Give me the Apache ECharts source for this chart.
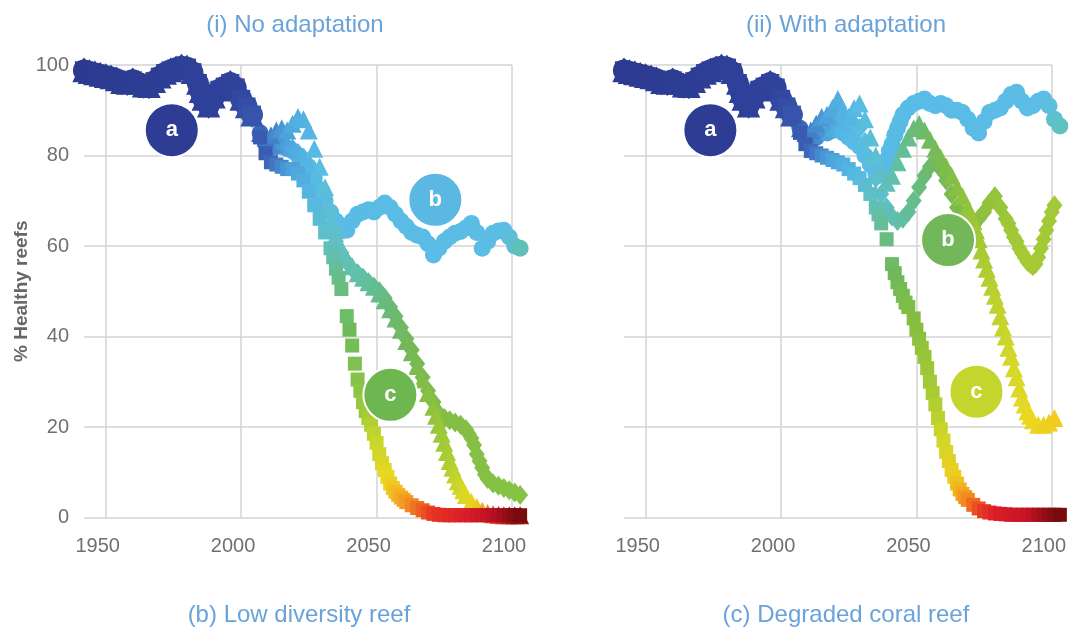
<!DOCTYPE html>
<html>
<head>
<meta charset="utf-8">
<script src="https://cdn.jsdelivr.net/npm/echarts@6/dist/echarts.min.js"></script>
<style>
html,body{margin:0;padding:0;background:#fff;}
#chart{width:1069px;height:632px;}
</style>
</head>
<body>
<div id="chart"></div>
<script>
// ---------------- DATA ----------------
const xTicks = [1950, 2000, 2050, 2100];
const panelTitles = ['(i) No adaptation', '(ii) With adaptation'];
const panelCaptions = ['(b) Low diversity reef', '(c) Degraded coral reef'];
const yAxisTitle = '% Healthy reefs';

// observed record shared by every scenario
const historical = [[1942,98.8],[1944,98.4],[1946,98.1],[1948,97.8],[1950,97.5],[1952,97.2],[1954,96.8],[1956,96.2],[1958,96.0],[1960,96.6],[1962,96.0],[1964,95.4],[1966,95.3],[1968,96.4],[1970,97.4],[1972,98.2],[1974,98.8],[1976,99.2],[1978,99.6],[1980,99.4],[1982,98.4],[1984,96.0],[1985,94.2],[1986,92.5],[1988,91.0],[1990,93.0],[1992,94.5],[1994,95.2],[1996,96.0],[1998,95.0],[2000,92.5],[2002,90.8],[2004,89.0]];

// (i) No adaptation projections
const noAdaptCircles = [[2007,85],[2009,83],[2011,82],[2013,82],[2015,82],[2017,81.5],[2019,81],[2021,80],[2023,79],[2025,77.5],[2027,75],[2029,72.5],[2031,70],[2033,67.5],[2035,65.5],[2037,64],[2039,63.5],[2041,65.5],[2043,67],[2045,67.5],[2047,68],[2049,67.5],[2051,68.5],[2053,69.5],[2055,68.5],[2057,67],[2059,65.5],[2061,64.3],[2063,63],[2065,62.4],[2067,62],[2069,60.5],[2071,58],[2073,59.5],[2075,61],[2077,62],[2079,62.8],[2081,63.2],[2083,64],[2085,65],[2087,63],[2089,59.5],[2091,61],[2093,62.8],[2095,63.3],[2097,63.5],[2099,62],[2101,60],[2103,59.5]];
const noAdaptDiamonds = [[2007,84],[2009,82],[2011,81.5],[2013,82],[2015,82.5],[2017,82],[2019,81.5],[2021,80.5],[2023,79.5],[2025,77.5],[2027,74.5],[2029,71.5],[2031,68],[2033,64.5],[2035,61],[2037,58.5],[2039,56.5],[2041,55],[2043,54],[2045,53],[2047,52],[2049,51],[2051,50],[2053,48.5],[2055,46.5],[2057,44.5],[2059,42],[2061,39.5],[2063,37],[2065,34],[2067,31],[2069,28],[2071,25.5],[2073,23],[2075,22],[2077,21.5],[2079,21],[2081,20.5],[2083,19.5],[2084,18.5],[2085,17.5],[2086,16],[2087,14],[2088,12.5],[2089,11],[2090,9.5],[2091,8.5],[2093,7.5],[2095,7],[2097,6.5],[2099,6],[2101,5.5],[2103,5]];
const noAdaptTriangles = [[2007,85],[2009,84],[2011,84.5],[2013,85.5],[2015,86],[2017,85.5],[2019,87],[2021,88.5],[2023,88],[2025,85.5],[2027,81.5],[2029,77.5],[2031,73],[2033,68.5],[2035,63.5],[2037,59.5],[2039,57],[2041,55.5],[2043,54],[2045,53],[2047,52],[2049,51],[2051,49.5],[2053,48],[2055,46],[2057,44],[2059,41.5],[2061,39],[2063,36.5],[2065,33.5],[2067,30.5],[2069,27.5],[2071,24.5],[2072,22.5],[2073,20.5],[2074,18.5],[2075,16.5],[2076,14.5],[2077,12.5],[2078,11],[2079,9.5],[2080,8],[2081,7],[2082,6],[2083,5],[2085,3.5],[2087,2.3],[2089,1.5],[2091,1],[2093,0.7],[2095,0.6],[2097,0.5],[2099,0.5],[2101,0.5],[2103,0.5]];
const noAdaptSquares = [[2007,84],[2009,80.5],[2011,78.5],[2013,78],[2015,77.5],[2017,77],[2019,77],[2021,76],[2023,74.5],[2025,72],[2027,69],[2029,66],[2031,63],[2033,59.5],[2034,57.5],[2035,55],[2036,53],[2037,50.5],[2039,44.5],[2040,41.5],[2041,38],[2042,34],[2043,30.5],[2044,28],[2045,25.5],[2046,23.5],[2047,22],[2048,20.5],[2049,18.5],[2050,16.5],[2051,14],[2052,12],[2053,10.5],[2054,9],[2055,7.5],[2056,6.5],[2057,5.7],[2058,5],[2059,4.4],[2060,3.9],[2061,3.4],[2063,2.7],[2065,2.1],[2067,1.6],[2069,1.1],[2071,0.8],[2073,0.6],[2075,0.5],[2077,0.5],[2079,0.5],[2081,0.5],[2083,0.5],[2085,0.5],[2087,0.5],[2089,0.5],[2091,0.5],[2093,0.5],[2095,0.5],[2097,0.5],[2099,0.5],[2101,0.5],[2103,0.5]];

// (ii) With adaptation projections
const adaptCircles = [[2007,86],[2009,84],[2011,83],[2013,84],[2015,85],[2017,85],[2019,85.5],[2021,86],[2023,85],[2025,84],[2027,83],[2029,82],[2031,80],[2033,78],[2035,76],[2036,75.5],[2037,76],[2038,77.5],[2039,79],[2040,81],[2041,82.5],[2042,84.5],[2043,86],[2044,87.5],[2045,89],[2047,90.5],[2049,91.5],[2051,92],[2053,92.5],[2055,91.5],[2057,91],[2059,91.5],[2061,91],[2063,90],[2065,90],[2067,89.5],[2069,88],[2071,86],[2073,85],[2075,87.5],[2077,89.5],[2079,90],[2081,90.5],[2083,92],[2085,93.5],[2087,94],[2089,92],[2091,90.5],[2093,91],[2095,92],[2097,92.5],[2099,91],[2101,88],[2103,86.5]];
const adaptDiamonds = [[2007,85],[2009,84],[2011,83.5],[2013,84.5],[2015,86],[2017,87],[2019,88],[2021,89],[2023,88.5],[2025,87],[2027,87],[2029,86],[2031,83],[2033,79],[2035,75],[2037,71.5],[2039,68.5],[2041,66.5],[2043,65.5],[2045,66],[2047,67.5],[2049,70],[2051,73],[2053,75.5],[2055,77.5],[2057,78.5],[2059,77],[2061,74.5],[2063,71.5],[2065,68.5],[2067,66],[2069,64.5],[2071,64.5],[2073,66],[2075,67.5],[2077,69.5],[2079,71],[2081,68.5],[2083,66],[2084,65],[2085,63.5],[2086,62],[2087,61],[2088,59.5],[2089,58.5],[2090,57.5],[2091,56.5],[2092,56],[2093,55.5],[2094,56],[2095,57.5],[2096,59.5],[2097,61.5],[2098,63.5],[2099,65.5],[2100,67.5],[2101,69]];
const adaptTriangles = [[2007,86],[2009,85],[2011,85.5],[2013,87],[2015,88.5],[2017,89],[2019,90.5],[2021,92.5],[2023,90],[2025,88.5],[2027,90.5],[2029,91.5],[2031,88],[2033,84],[2035,80],[2037,76.5],[2039,74],[2041,75.5],[2043,78.5],[2045,81.5],[2047,84],[2049,86],[2051,87],[2053,85.5],[2055,83.5],[2057,81.5],[2059,79.5],[2061,77.5],[2063,75.5],[2065,73],[2067,71],[2069,68.5],[2070,67],[2071,65.5],[2072,63.5],[2073,61.5],[2074,59],[2075,57],[2076,55],[2077,53],[2078,51],[2079,49],[2080,47],[2081,44.5],[2082,42],[2083,40],[2084,37.5],[2085,35.5],[2086,33],[2087,31],[2088,28.5],[2089,26.5],[2090,25],[2091,23.5],[2092,22.5],[2093,21.5],[2095,20.5],[2097,20.5],[2099,21],[2101,22]];
const adaptSquares = [[2007,85],[2009,82.5],[2011,81],[2013,80.5],[2015,80],[2017,79.5],[2019,79],[2021,78.5],[2023,78],[2025,77],[2027,76],[2029,75],[2031,73.5],[2033,71.5],[2035,68.5],[2036,67],[2037,65],[2039,61.5],[2041,56],[2042,54],[2043,52],[2044,50.5],[2045,49],[2046,47.5],[2047,46.5],[2049,44],[2050,41.5],[2051,39.5],[2052,37.5],[2053,35.5],[2054,33],[2055,30],[2056,27.5],[2057,25],[2058,22],[2059,19.5],[2060,17],[2061,14.5],[2062,12.5],[2063,10.5],[2064,9],[2065,7.5],[2066,6.2],[2067,5.2],[2068,4.5],[2069,3.9],[2071,2.8],[2073,2],[2075,1.4],[2077,1.1],[2079,0.9],[2081,0.8],[2083,0.7],[2085,0.6],[2087,0.6],[2089,0.6],[2091,0.6],[2093,0.6],[2095,0.6],[2097,0.6],[2099,0.6],[2101,0.6],[2103,0.6]];

// annotation bubbles (year, % healthy)
const noAdaptLabels = [['a',1974.4,85.6],['b',2071.7,70.2],['c',2055.1,27.1]];
const adaptLabels = [['a',1973.9,85.6],['b',2061.7,61.3],['c',2072.2,27.8]];

// ---------------- STYLE ----------------
const AXISFONT = '"Liberation Sans",Arial,sans-serif';
const REG = '"Liberation Sans",Arial,sans-serif';
const TITLE_COLOR = '#6aa3d8';
const GRID_COLOR = '#d3d3d3';
const HIST_END = 2005;      // observed period drawn with slightly larger markers
const HIST_SCALE = 1.3;

const hist = [[1940,'#2c3a8f'],[1998,'#2f429c'],[2004,'#3654ab']];
const ramps = {
  lc: hist.concat([[2010,'#3f7ac4'],[2018,'#4fa8df'],[2026,'#58bbe6'],[2098,'#5cbde4'],[2104,'#5fc1b0']]),
  ld: hist.concat([[2010,'#3f7ac4'],[2018,'#4fa8df'],[2028,'#58bce6'],[2036,'#60c1c4'],[2046,'#62bfa0'],[2054,'#68ba7a'],[2062,'#74b958'],[2075,'#82be46'],[2104,'#86c244']]),
  lt: hist.concat([[2010,'#3f7ac4'],[2018,'#4fa8df'],[2028,'#58bce6'],[2036,'#60c1c4'],[2046,'#62bfa0'],[2054,'#68ba7a'],[2062,'#74b958'],[2070,'#88c040'],[2076,'#a8cc34'],[2082,'#d6d826'],[2086,'#ecd21e'],[2090,'#f0a020'],[2094,'#e23a22'],[2104,'#8a0c10']]),
  ls: hist.concat([[2010,'#3b5fb6'],[2018,'#4a9ed9'],[2026,'#56b7e3'],[2032,'#5fbfc8'],[2036,'#66be8a'],[2040,'#6fbb5c'],[2046,'#9cc93a'],[2050,'#c9d62a'],[2054,'#e8d820'],[2058,'#f2b722'],[2062,'#f39022'],[2067,'#ee6020'],[2072,'#e63322'],[2085,'#d81c2a'],[2094,'#b81222'],[2104,'#700a0c']]),
  rc: hist.concat([[2010,'#3f7ac4'],[2018,'#4fa8df'],[2026,'#57bbe6'],[2098,'#5cbde6'],[2104,'#60c2b8']]),
  rd: hist.concat([[2010,'#3f7ac4'],[2018,'#4fa8df'],[2028,'#57bbe6'],[2036,'#5cbfd0'],[2044,'#5fbfa8'],[2052,'#68bb78'],[2060,'#74b958'],[2070,'#84be44'],[2080,'#98c43a'],[2090,'#a6ca36'],[2104,'#a2c838']]),
  rt: hist.concat([[2010,'#3f7ac4'],[2018,'#4fa8df'],[2028,'#57bbe6'],[2036,'#5dbfd0'],[2044,'#62bf9c'],[2052,'#6cba6c'],[2060,'#7cbc4c'],[2070,'#96c43a'],[2078,'#b8cf30'],[2086,'#d6d828'],[2092,'#ead820'],[2104,'#f4c61e']]),
  rs: hist.concat([[2010,'#3b5fb6'],[2018,'#4aa0da'],[2028,'#56b9e5'],[2034,'#5fc0c2'],[2038,'#66bd88'],[2042,'#70b95a'],[2050,'#86bf40'],[2056,'#a8cb34'],[2060,'#d2d628'],[2064,'#ecce20'],[2067,'#f4a820'],[2070,'#f07a20'],[2074,'#e84222'],[2080,'#dc1e28'],[2092,'#c41424'],[2104,'#700a0c']])
};
function hexToRgb(h){return [parseInt(h.slice(1,3),16),parseInt(h.slice(3,5),16),parseInt(h.slice(5,7),16)];}
function rampColor(ramp, x){
  if (x <= ramp[0][0]) return ramp[0][1];
  for (let i = 1; i < ramp.length; i++) {
    if (x <= ramp[i][0]) {
      const t = (x - ramp[i-1][0]) / (ramp[i][0] - ramp[i-1][0]);
      const a = hexToRgb(ramp[i-1][1]), b = hexToRgb(ramp[i][1]);
      return 'rgb(' + a.map((v,k)=>Math.round(v + (b[k]-v)*t)).join(',') + ')';
    }
  }
  return ramp[ramp.length-1][1];
}
const labelColors = [['#2e3c94','#5bb8e2','#6db650'],['#2e3c94','#72b85a','#c4d62e']];

// ---------------- OPTION ----------------
const grids = [
  {left: 84, right: 557, top: 65, bottom: 114.5},
  {left: 624, right: 16, top: 65, bottom: 114.5}
];
function xAxis(i){
  return {
    type:'value', gridIndex:i, min:1942, max:2100,
    axisLine:{show:false},
    axisTick:{show:false, customValues:xTicks},
    axisLabel:{customValues:xTicks, formatter:function(v){return String(v);}, fontFamily:AXISFONT, fontSize:20, color:'#707070', margin:19, padding:[0,16,0,0]},
    splitLine:{show:true, lineStyle:{color:GRID_COLOR, width:1.5}}
  };
}
function yAxis(i){
  return {
    type:'value', gridIndex:i, min:0, max:100, interval:20,
    axisLine:{show:false}, axisTick:{show:false},
    axisLabel:{show:i===0, fontFamily:AXISFONT, fontSize:20, color:'#707070', margin:15},
    splitLine:{show:true, lineStyle:{color:GRID_COLOR, width:1.5}},
    name: i===0 ? yAxisTitle : '',
    nameLocation:'middle', nameRotate:90, nameGap:38,
    nameTextStyle:{fontFamily:AXISFONT, fontSize:19, fontWeight:'bold', color:'#666'}
  };
}
function scen(data, panel, symbol, size, rampKey){
  return {
    type:'scatter', xAxisIndex:panel, yAxisIndex:panel, clip:false,
    symbol:symbol, silent:true,
    symbolSize:function(v){
      const s = v[0] < HIST_END ? HIST_SCALE : 1;
      return Array.isArray(size) ? [size[0]*s, size[1]*s] : size*s;
    },
    data: historical.concat(data),
    itemStyle:{opacity:1, color:function(p){return rampColor(ramps[rampKey], p.value[0]);}}
  };
}
function labelSeries(labels, panel){
  return {
    type:'scatter', xAxisIndex:panel, yAxisIndex:panel, clip:false, z:5, silent:true,
    symbol:'circle', symbolSize:54,
    data: labels.map((l,k)=>({name:l[0], value:[l[1],l[2]], itemStyle:{color:labelColors[panel][k]}})),
    itemStyle:{borderColor:'#fff', borderWidth:2, opacity:1},
    label:{show:true, position:'inside', formatter:'{b}', color:'#fff', fontFamily:REG, fontWeight:'bold', fontSize:22}
  };
}
const titleStyle = {fontFamily:REG, fontSize:24, fontWeight:'normal', color:TITLE_COLOR};
const option = {
  backgroundColor:'#fff',
  animation:false,
  title:[
    {text:panelTitles[0], left:290, top:8, textAlign:'center', textStyle:titleStyle},
    {text:panelTitles[1], left:841, top:8, textAlign:'center', textStyle:titleStyle},
    {text:panelCaptions[0], left:294, top:598, textAlign:'center', textStyle:titleStyle},
    {text:panelCaptions[1], left:841, top:598, textAlign:'center', textStyle:titleStyle}
  ],
  grid:grids,
  xAxis:[xAxis(0), xAxis(1)],
  yAxis:[yAxis(0), yAxis(1)],
  series:[
    scen(noAdaptCircles, 0, 'circle', 17, 'lc'),
    scen(noAdaptDiamonds, 0, 'diamond', [16,20], 'ld'),
    scen(noAdaptTriangles, 0, 'triangle', 18, 'lt'),
    scen(noAdaptSquares, 0, 'rect', 14, 'ls'),
    scen(adaptCircles, 1, 'circle', 17, 'rc'),
    scen(adaptDiamonds, 1, 'diamond', [16,20], 'rd'),
    scen(adaptTriangles, 1, 'triangle', 18, 'rt'),
    scen(adaptSquares, 1, 'rect', 14, 'rs'),
    labelSeries(noAdaptLabels, 0),
    labelSeries(adaptLabels, 1)
  ]
};
const chart = echarts.init(document.getElementById('chart'), null, {renderer:'canvas'});
chart.setOption(option);
</script>
</body>
</html>
